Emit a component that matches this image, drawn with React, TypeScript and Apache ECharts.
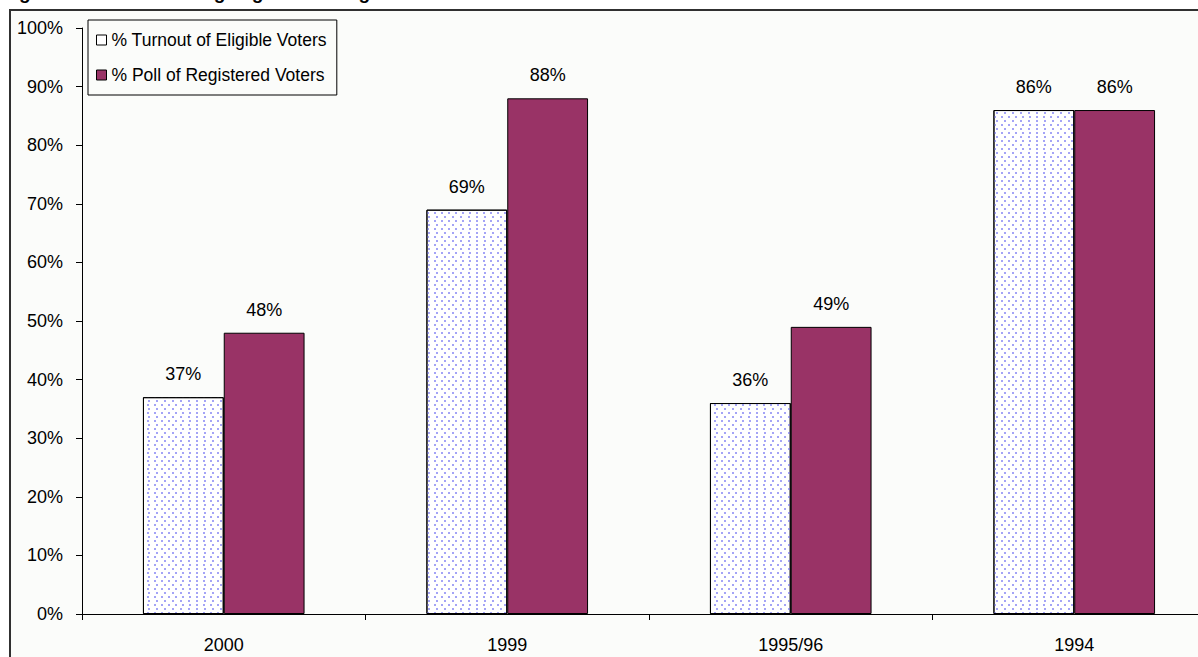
import React, { useEffect, useRef } from "react";
import * as echarts from "echarts";

// Election years shown along the x axis
const categories = ["2000", "1999", "1995/96", "1994"];
// Turnout as a share of eligible voters (%)
const turnoutEligible = [37, 69, 36, 86];
// Poll as a share of registered voters (%)
const pollRegistered = [48, 88, 49, 86];
// Y axis range and step (%)
const yMin = 0;
const yMax = 100;
const yStep = 10;

const seriesNames = ["% Turnout of Eligible Voters", "% Poll of Registered Voters"];
const titleText =
  "Figure 4: Turnout among eligible and registered voters in four democratic elections";

const FONT = "'Liberation Sans', Arial, sans-serif";
const MAROON = "#993366";
const PANEL = "#fbfcfa";

export default function App() {
  const ref = useRef<HTMLDivElement>(null);

  useEffect(() => {
    if (!ref.current) return;
    const chart = echarts.init(ref.current, undefined, { renderer: "svg" });

    const labelStyle = {
      show: true,
      position: "top" as const,
      distance: 14,
      formatter: "{c}%",
      color: "#000",
      fontFamily: FONT,
      fontSize: 18,
    };

    chart.setOption({
      animation: false,
      backgroundColor: "#ffffff",
      textStyle: { fontFamily: FONT },
      graphic: [
        {
          type: "rect",
          z: -10,
          shape: { x: 10, y: 10, width: 1400, height: 800 },
          style: { fill: PANEL, stroke: "#303030", lineWidth: 2 },
          silent: true,
        },
        {
          type: "text",
          x: 2,
          y: -17,
          style: {
            text: titleText,
            fontFamily: FONT,
            fontSize: 19,
            fontWeight: "bold",
            fill: "#000",
          },
          silent: true,
        },
      ],
      legend: {
        orient: "vertical",
        left: 88,
        top: 20,
        padding: [11, 10, 11, 8],
        itemGap: 17,
        itemWidth: 10,
        itemHeight: 10,
        itemTextGap: 5,
        borderColor: "#000",
        borderWidth: 1,
        backgroundColor: PANEL,
        textStyle: { fontFamily: FONT, fontSize: 17.5, color: "#000" },
        data: [
          {
            name: seriesNames[0],
            icon: "rect",
            itemStyle: { color: "#ffffff", borderColor: "#000", borderWidth: 1, decal: "none" },
          },
          {
            name: seriesNames[1],
            icon: "rect",
            itemStyle: { color: MAROON, borderColor: "#000", borderWidth: 1 },
          },
        ],
      },
      grid: { left: 82, top: 28, width: 1134, height: 586 },
      xAxis: {
        type: "category",
        data: categories,
        axisLine: { lineStyle: { color: "#000", width: 1 } },
        axisTick: { show: true, length: 6, lineStyle: { color: "#000" } },
        axisLabel: { color: "#000", fontFamily: FONT, fontSize: 18, margin: 22 },
      },
      yAxis: {
        type: "value",
        min: yMin,
        max: yMax,
        interval: yStep,
        splitLine: { show: false },
        axisLine: { show: true, lineStyle: { color: "#000", width: 1 } },
        axisTick: { show: true, length: 6, lineStyle: { color: "#000" } },
        axisLabel: {
          formatter: "{value}%",
          color: "#000",
          fontFamily: FONT,
          fontSize: 18,
          margin: 19,
        },
      },
      series: [
        {
          name: seriesNames[0],
          type: "bar",
          data: turnoutEligible,
          barGap: "0%",
          barCategoryGap: "43%",
          itemStyle: {
            color: "#ffffff",
            borderColor: "#000",
            borderWidth: 1,
            decal: {
              symbol: "rect",
              symbolSize: 1,
              color: "#a4a4f6",
              dashArrayX: [
                [2, 5],
                [0, 3.5, 2, 1.5],
              ],
              dashArrayY: [2, 2],
              rotation: 0,
            },
          },
          label: labelStyle,
        },
        {
          name: seriesNames[1],
          type: "bar",
          data: pollRegistered,
          itemStyle: { color: MAROON, borderColor: "#000", borderWidth: 1 },
          label: labelStyle,
        },
      ],
    });

    return () => chart.dispose();
  }, []);

  return (
    <div
      style={{
        position: "fixed",
        left: 0,
        top: 0,
        width: 1198,
        height: 657,
        overflow: "hidden",
        background: "#fff",
      }}
    >
      <div ref={ref} style={{ width: 1240, height: 657 }} />
    </div>
  );
}
